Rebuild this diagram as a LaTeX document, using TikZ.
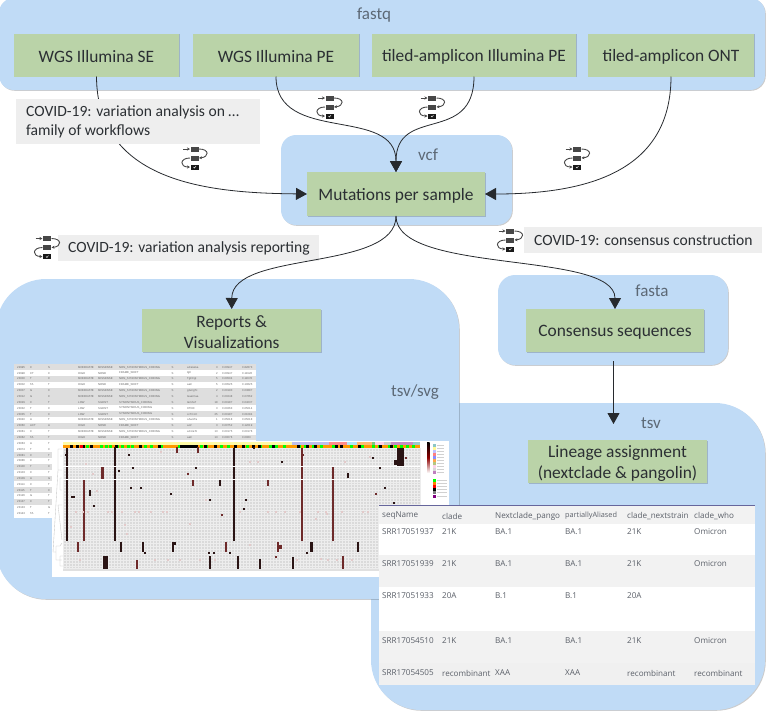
\documentclass[tikz,border=0pt]{standalone}
\usepackage{fontspec}
\setmainfont{Carlito}
\newfontfamily\tblfont{Open Sans}
\newfontfamily\tinyfont{Liberation Sans}
\usetikzlibrary{arrows.meta,shadows}
\definecolor{grpblue}{HTML}{C0DBF6}
\definecolor{boxgreen}{HTML}{BAD3A8}
\definecolor{lblgray}{HTML}{EEEEEE}
\definecolor{txtdark}{HTML}{2B2F33}
\definecolor{grptxt}{HTML}{5C6875}
\definecolor{tbltxt}{HTML}{5A5F68}
\definecolor{dk}{HTML}{2A1414}
\definecolor{rd}{HTML}{6E2A2A}
\definecolor{pk}{HTML}{E3CACA}
\definecolor{cellbg}{HTML}{DADADA}
\definecolor{cellline}{HTML}{EDEDED}
\tikzset{
  grp/.style={fill=grpblue,draw=none,inner sep=0pt,outer sep=0pt,
    drop shadow={shadow xshift=.8pt,shadow yshift=-.8pt,opacity=.2,fill=black}},
  stepbox/.style={fill=boxgreen,draw=none,inner sep=0pt,outer sep=0pt,
    drop shadow={shadow xshift=.8pt,shadow yshift=-.8pt,opacity=.18,fill=black}},
  steptext/.style={inner sep=0pt,align=center,text=txtdark,font=\fontsize{17.4}{21}\selectfont},
  grplabel/.style={text=grptxt,font=\fontsize{17}{20}\selectfont,inner sep=0pt},
  wflabel/.style={fill=lblgray,inner sep=0pt,outer sep=0pt},
  wftext/.style={anchor=west,inner sep=0pt,align=left,text=txtdark,font=\fontsize{15.6}{19}\selectfont},
  flow/.style={draw=txtdark!90!black,line width=.8pt,-{Triangle[length=11pt,width=12pt]}},
  tcell/.style={anchor=west,inner sep=0pt,text=tbltxt,font=\tblfont\fontsize{8.1}{10}\selectfont},
  lcell/.style={anchor=west,inner sep=0pt,text=black!60,font=\tinyfont\fontsize{2.8}{4}\selectfont},
  wficon/.pic={
    \fill[black!72] (-4,-11.5) rectangle (4,-6.5);
    \fill[black!72] (-4,-2.5) rectangle (4,2.5);
    \fill[black!90] (-4,6.5) rectangle (4,11.5);
    \draw[white,line width=.4pt] (-1,9) -- (0,10) -- (1.5,8);
    \draw[black!72,line width=.9pt,-{Stealth[length=3pt,width=3pt]}] (-11.5,-9) -- (-4.5,-9);
    \draw[black!72,line width=.9pt,-{Stealth[length=3pt,width=3pt]}] (4.5,-9) .. controls (15,-9) and (15,-1) .. (4.5,0);
    \draw[black!72,line width=.9pt,-{Stealth[length=3pt,width=3pt]}] (-4.5,0) .. controls (-15,0) and (-15,9) .. (-4.5,9);
  }
}
% step box with its text set a little below the centre, as in the picture
\newcommand\stepn[6]{%
  \node[stepbox,minimum width=#4pt,minimum height=#5pt] (#1) at (#2,#3) {};
  \node[steptext] (#1-t) at ([yshift=-1.8pt]#1.center) {#6};
}
\newcommand\tbrow[8]{%
  \node[tcell] (t#1a) at (382,#2) {#3};
  \node[tcell] (t#1b) at (442,#2) {#4};
  \node[tcell] (t#1c) at (495,#2) {#5};
  \node[tcell] (t#1d) at (565,#2) {#6};
  \node[tcell] (t#1e) at (627,#2) {#7};
  \node[tcell] (t#1f) at (694,#2) {#8};
}
\newcommand\lrowa[7]{%
  \node[lcell] (la#1) at (17,{367.3+5.85*#1}) {#2};
  \node[lcell] (lb#1) at (30,{367.3+5.85*#1}) {#3};
  \node[lcell] (lc#1) at (48,{367.3+5.85*#1}) {#4};
  \node[lcell] (ld#1) at (78,{367.3+5.85*#1}) {#5};
  \node[lcell] (le#1) at (98,{367.3+5.85*#1}) {#6};
  \node[lcell] (lf#1) at (119,{367.3+5.85*#1}) {#7};
}
\newcommand\lrowb[5]{%
  \node[lcell] (lg#1) at (171.5,{367.3+5.85*#1}) {S};
  \node[lcell] (lh#1) at (187,{367.3+5.85*#1}) {#2};
  \node[lcell,anchor=east] (li#1) at (218,{367.3+5.85*#1}) {#3};
  \node[lcell] (lj#1) at (222,{367.3+5.85*#1}) {#4};
  \node[lcell] (lk#1) at (242,{367.3+5.85*#1}) {#5};
}
\newcommand\lrowc[4]{%
  \node[lcell] (la#1) at (17,{367.3+5.85*#1}) {#2};
  \node[lcell] (lb#1) at (30,{367.3+5.85*#1}) {#3};
  \node[lcell] (lc#1) at (48,{367.3+5.85*#1}) {#4};
}
\begin{document}
\begin{tikzpicture}[x=1pt,y=-1pt]
\useasboundingbox (0,0) rectangle (768,713);
% groups
\node[grp,rounded corners=15pt,minimum width=766pt,minimum height=92pt] (gfastq) at (382,44) {};
\node[grp,rounded corners=15pt,minimum width=231pt,minimum height=90pt] (gvcf) at (396.5,180) {};
\node[grp,rounded corners=17pt,minimum width=230pt,minimum height=90pt] (gfasta) at (613,320) {};
\node[grp,rounded corners=50pt,minimum width=394pt,minimum height=307pt] (gtsv) at (568,556.5) {};
\node[grp,rounded corners=50pt,minimum width=463pt,minimum height=320pt] (greports) at (227.5,439) {};
% group labels
\node[grplabel] (lfastq) at (374,15) {fastq};
\node[grplabel] (lvcf) at (428,155) {vcf};
\node[grplabel] (lfasta) at (652,291) {fasta};
\node[grplabel] (ltsv) at (651,423) {tsv};
\node[grplabel] (lsvg) at (415,392) {tsv/svg};
% step boxes
\stepn{se}{96.5}{55}{165}{43}{WGS Illumina SE}
\stepn{pe}{276}{55}{166}{43}{WGS Illumina PE}
\stepn{tpe}{474}{55}{204}{43}{tiled-amplicon Illumina PE}
\stepn{ont}{671}{55}{166}{43}{tiled-amplicon ONT}
\stepn{mut}{396}{194}{178}{44}{Mutations per sample}
\stepn{rep}{231.7}{330.5}{179}{43}{Reports \&\\Visualizations}
\stepn{cons}{615}{330.5}{178}{43}{Consensus sequences}
\stepn{lin}{617.5}{461.5}{179}{43}{Lineage assignment\\(nextclade \& pangolin)}
% connectors
\draw[flow] (se.south) .. controls (97,185) and (215,193) .. (mut.west);
\node[wflabel,minimum width=244pt,minimum height=45pt] (lab1) at (138,121.5) {};
\node[wftext] (lab1-t) at ([xshift=10pt]lab1.west) {COVID-19: variation analysis on …\\family of workflows};
\node[wflabel,minimum width=261pt,minimum height=26pt] (lab2) at (188.5,248) {};
\node[wftext] (lab2-t) at ([xshift=10pt]lab2.west) {COVID-19: variation analysis reporting};
\node[wflabel,minimum width=238pt,minimum height=26pt] (lab3) at (643,240) {};
\node[wftext] (lab3-t) at ([xshift=10pt]lab3.west) {COVID-19: consensus construction};
\draw[flow] (pe.south) .. controls (276,145) and (396,105) .. (mut.north);
\draw[flow] (tpe.south) .. controls (474,145) and (396,105) .. (mut.north);
\draw[flow] (ont.south) .. controls (671,170) and (590,194) .. (mut.east);
\draw[flow] (mut.south) .. controls (396,272) and (232,250) .. (rep.north);
\draw[flow] (mut.south) .. controls (396,275) and (615,250) .. (cons.north);
\coordinate (cs) at (613.5,361);
\coordinate (ce) at (613.5,424);
\draw[flow] (cs) -- (ce);
% icons
\pic at (194.5,158) {wficon};
\pic at (329.5,107) {wficon};
\pic at (432,107) {wficon};
\pic at (577,158) {wficon};
\pic at (47,247.5) {wficon};
\pic at (510,240) {wficon};
% left table
\fill[white] (14,364) rectangle (256,518);
\foreach \i in {0,2,4,5,6,8,10,12,15,17,19,21,23}{
  \pgfmathsetmacro\yy{364.4+5.85*\i}
  \ifnum\i<13
    \fill[black!13] (14,\yy) rectangle (256,\yy+5.85);
  \else
    \fill[black!13] (14,\yy) rectangle (52,\yy+5.85);
  \fi
}
\lrowa{0}{22995}{C}{S}{MODERATE}{MISSENSE}{NON\_SYNONYMOUS\_CODING}
\lrowa{1}{22998}{CT}{C}{HIGH}{NONE}{FRAME\_SHIFT}
\lrowa{2}{23000}{T}{C}{MODERATE}{MISSENSE}{NON\_SYNONYMOUS\_CODING}
\lrowa{3}{23002}{TA}{T}{HIGH}{NONE}{FRAME\_SHIFT}
\lrowa{4}{23007}{G}{C}{MODERATE}{MISSENSE}{NON\_SYNONYMOUS\_CODING}
\lrowa{5}{23012}{G}{C}{MODERATE}{MISSENSE}{NON\_SYNONYMOUS\_CODING}
\lrowa{6}{23029}{C}{T}{LOW}{SILENT}{SYNONYMOUS\_CODING}
\lrowa{7}{23032}{T}{C}{LOW}{SILENT}{SYNONYMOUS\_CODING}
\lrowa{8}{23035}{T}{C}{LOW}{SILENT}{SYNONYMOUS\_CODING}
\lrowa{9}{23040}{A}{T}{MODERATE}{MISSENSE}{NON\_SYNONYMOUS\_CODING}
\lrowa{10}{23060}{ACT}{A}{HIGH}{NONE}{FRAME\_SHIFT}
\lrowa{11}{23061}{C}{T}{MODERATE}{MISSENSE}{NON\_SYNONYMOUS\_CODING}
\lrowa{12}{23062}{TA}{T}{HIGH}{NONE}{FRAME\_SHIFT}
\lrowb{0}{aCa/aGa}{3}{0.00947}{0.82873}
\lrowb{1}{tgt/}{2}{0.00947}{0.11926}
\lrowb{2}{Tgt/Cgt}{5}{0.00504}{0.11678}
\lrowb{3}{aat/}{5}{0.00525}{0.10625}
\lrowb{4}{gGc/gTc}{2}{0.00190}{0.03887}
\lrowb{5}{Gaa/Caa}{4}{0.00248}{0.07662}
\lrowb{6}{taC/taT}{18}{0.00187}{0.04037}
\lrowb{7}{ttT/ttC}{3}{0.00263}{0.05014}
\lrowb{8}{ccT/ccC}{25}{0.00187}{0.01084}
\lrowb{9}{cAa/cTa}{1}{0.05018}{0.05018}
\lrowb{10}{act/}{3}{0.00752}{0.12019}
\lrowb{11}{aCc/aTc}{13}{0.00175}{0.00176}
\lrowb{12}{aat/}{13}{0.00076}{0.0063}
\lrowc{13}{23063}{A}{T}
\lrowc{14}{23074}{T}{C}
\lrowc{15}{23081}{C}{T}
\lrowc{16}{23086}{C}{T}
\lrowc{17}{23100}{T}{C}
\lrowc{18}{23103}{C}{T}
\lrowc{19}{23109}{A}{G}
\lrowc{20}{23114}{C}{T}
\lrowc{21}{23115}{T}{C}
\lrowc{22}{23126}{G}{T}
\lrowc{23}{23137}{C}{T}
\lrowc{24}{23133}{T}{G}
\lrowc{25}{23143}{TA}{T}
% heat map
\fill[white] (52,441) rectangle (449,577);
\fill[cellbg] (63,448) rectangle (420,569);
\draw[cellline,line width=.2pt,xstep=3pt,ystep=2.8pt] (63,448) grid (420,569);
\fill[white!88!black] (63,569) rectangle (420,571);
% annotation bars
\fill[yellow!35!white] (63,442) rectangle (292,445);
\fill[black!30!blue!25!white] (292,442) rectangle (329,445);
\fill[red!45!white] (329,442) rectangle (347,445);
\fill[cyan!30!white] (347,442) rectangle (357,445);
\fill[orange!55!white] (357,442) rectangle (372,445);
\fill[green!55!black!50!white] (372,442) rectangle (375,445);
\fill[magenta!18!white] (375,442) rectangle (384,445);
\fill[black!20] (384,442) rectangle (391,445);
\fill[violet!45!white] (391,442) rectangle (413,445);
\fill[teal!40!white] (413,442) rectangle (420,445);
\fill[orange!80!yellow] (63,445) rectangle (420,448);
\foreach \x in {70,80,86,100,105,109,116,121,127,131,144,150,160,178,184,190,200,205,220,227,246,252,259,269,275,283,298,304,312,320,332,340,350,361,372,378,388,394,400,406,412}{
  \fill[green] (\x,445) rectangle (\x+3,448);
}
\foreach \x in {70,76,82,90,115,139,158,180,183,186,189,192,195,204,214,234,242,252,258,272,297,306,314,335,340,358,379,390}{
  \fill[black] (\x,445) rectangle (\x+2.5,448);
}
\fill[red] (80,445) rectangle (83,448);
% long columns
\foreach \x/\a/\b/\c in {67/448/541/dk,84/480/541/rd,115/447/541/dk,234/448/541/dk,302/448/541/rd,333/467/541/rd,
  102.5/467/479/rd,90/490/496/dk,177/447/453/rd,198/447/453/rd,193/480/486/rd,220/480/486/dk,268/480/486/rd,348/473/478/dk,
  78/542/552/rd,121/542/552/dk,143/542/552/dk,173/542/552/dk,226/542/552/rd,278/542/552/rd,311.5/542/552/dk,358/542/552/dk,
  137/560/569/rd,210/556/569/dk,238/556/569/dk,260/559/569/dk,293/557/569/dk,343/556/569/rd}{
  \fill[\c] (\x-1.1,\a) rectangle (\x+1.1,\b);
}
\fill[dk] (103,556) rectangle (108,569);
\fill[dk] (397,448) rectangle (403.5,466);
\fill[dk] (393.5,460) rectangle (403.5,465);
\fill[dk] (172,542) rectangle (176,545);
\fill[rd] (278,545) rectangle (282,549);
% small marks
\foreach \x/\y in {66/455,129/455,133/468,119/471,196/468,131/488,141/488,171/494,72/497,74/497,210/500,94/506,254/448,282/462,373/458,380/468,385/488,246/500,244/509,394/503,307/553,145/553,209/553,214/553,230/553}{
  \fill[dk] (\x-1.2,\y-1.4) rectangle (\x+1.2,\y+1.4);
}
\foreach \x/\y in {222/515,303/455,406/458,376/494,276/557,188/474}{
  \fill[rd] (\x-1.2,\y-1.4) rectangle (\x+1.2,\y+1.4);
}
\foreach \x/\y in {161/452,86/464,93/474,97/491,206/500,71/527,125/525,127/534,190/524,76/512,83/512,88/512,108/512,112/512,122/512,135/512,139/512,151/512,163/512,167/512,240/512,268/512,276/512,285/512,300/512,318/512,326/512,342/512,363/512,368/512,316/519,327/514,80/560,155/560,168/560,180/560,200/560,215/560,321/559,328/560,337/560,352/560,297/560,250/545,250/462,258/462,345/462,370/457}{
  \fill[pk] (\x-1.2,\y-1.4) rectangle (\x+1.2,\y+1.4);
}
% white breaks through columns
\foreach \y in {466.5,479.5}{\draw[white,line width=.5pt] (63,\y) -- (420,\y);}
% dendrogram
\draw[black!22,line width=.35pt] (62,449) -- (58,449) -- (58,470) -- (62,470)
  (62,456) -- (60,456) (62,478) -- (60,478) -- (60,490) -- (62,490)
  (62,505) -- (58,505) -- (62,540) (58,470) -- (55,520) -- (53,552) -- (56,552)
  (56,546) -- (60,546) (60,546) -- (62,543) (56,546) -- (56,560) -- (62,560)
  (60,556) -- (60,566) -- (63,566) (60,556) -- (63,556);
% legend
\shade[top color=black,bottom color=white,middle color=red!55!black] (427,442) rectangle (429.5,473);
\foreach \i/\c in {0/teal!45,1/yellow!40,2/blue!25,3/red!50,4/blue!45,5/orange!70,6/lime!55!black!50,7/magenta!18,8/black!15,9/violet!50}{
  \fill[\c] (433,{444+3*\i}) rectangle (436,{447+3*\i});
  \fill[black!18] (437,{445+3*\i}) rectangle (444,{446+3*\i});
}
\foreach \i/\c in {0/green,1/orange,2/red,3/black,4/black!50,5/violet}{
  \fill[\c] (433,{479+3.1*\i}) rectangle (436,{482+3.1*\i});
  \fill[black!18] (437,{480+3.1*\i}) rectangle (447,{481+3.1*\i});
}
% right table
\fill[white] (379,505) rectangle (755,685);
\fill[black!5] (379,505) rectangle (755,524);
\fill[black!5] (379,555) rectangle (755,587);
\fill[black!5] (379,631) rectangle (755,663);
\fill[black!6] (379,663) rectangle (755,685);
\draw[black!65!blue!60!white,line width=.8pt] (379,505.5) -- (755,505.5);
\tbrow{0}{516}{seqName}{clade}{Nextclade\_pango}{\fontsize{7.3}{10}\selectfont partiallyAliased}{clade\_nextstrain}{clade\_who}
\tbrow{1}{532}{SRR17051937}{21K}{BA.1}{BA.1}{21K}{Omicron}
\tbrow{2}{563.5}{SRR17051939}{21K}{BA.1}{BA.1}{21K}{Omicron}
\tbrow{3}{596}{SRR17051933}{20A}{B.1}{B.1}{20A}{}
\tbrow{4}{641}{SRR17054510}{21K}{BA.1}{BA.1}{21K}{Omicron}
\tbrow{5}{673}{SRR17054505}{recombinant}{XAA}{XAA}{recombinant}{recombinant}
\end{tikzpicture}
\end{document}
